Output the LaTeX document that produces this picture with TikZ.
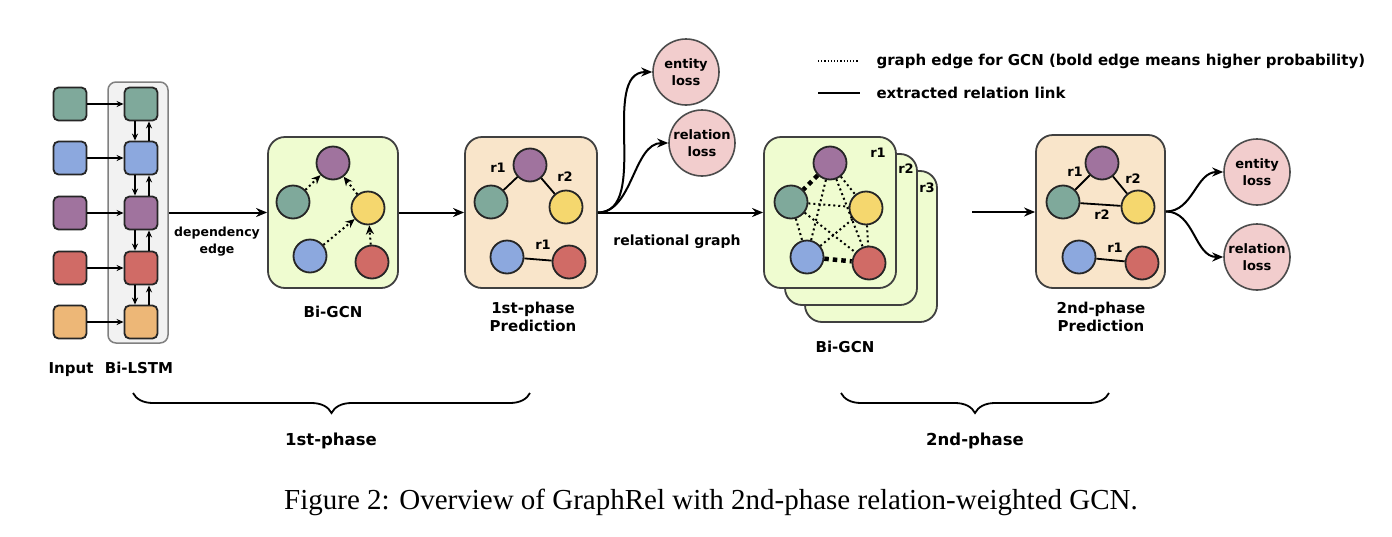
\documentclass[tikz,border=0pt]{standalone}
\usepackage{fontspec}
\setmainfont{Liberation Serif}
\setsansfont{DejaVu Sans}
\usetikzlibrary{arrows.meta, positioning, decorations.pathreplacing}

\definecolor{cteal}{HTML}{7FA99B}
\definecolor{cblue}{HTML}{8CA8DE}
\definecolor{cpurple}{HTML}{A0739E}
\definecolor{cred}{HTML}{D06B66}
\definecolor{corange}{HTML}{EDB777}
\definecolor{cyellow}{HTML}{F5D76E}
\definecolor{gcnfill}{HTML}{EFFCD0}
\definecolor{predfill}{HTML}{F9E5CA}
\definecolor{lossfill}{HTML}{F2CDCD}

\begin{document}
\begin{tikzpicture}[x=1pt, y=-1pt,
    >={Stealth[length=11pt,width=9pt]},
    lbl/.style={font=\sffamily\bfseries\fontsize{15}{18}\selectfont, align=center},
    small/.style={font=\sffamily\bfseries\fontsize{12.5}{17}\selectfont, align=center},
    rlbl/.style={font=\sffamily\bfseries\fontsize{13}{15}\selectfont, inner sep=0pt},
    sq/.style={draw=black!85, line width=1.8pt, rounded corners=5pt, minimum size=33pt, inner sep=0pt},
    tok/.style={circle, draw=black!85, line width=1.8pt, minimum size=33pt, inner sep=0pt},
    loss/.style={circle, draw=black!70, line width=1.6pt, fill=lossfill, minimum size=66pt, inner sep=0pt,
                 font=\sffamily\bfseries\fontsize{13}{17}\selectfont, align=center},
    panel/.style={draw=black!75, line width=1.8pt, rounded corners=17pt, minimum width=131pt, minimum height=151pt},
    flow/.style={->, line width=2pt},
    thin/.style={->, line width=1.3pt, >={Stealth[length=7pt,width=6pt]}},
    gedge/.style={line width=2pt, dash pattern=on 2pt off 3pt},
    gbold/.style={line width=4.5pt, dash pattern=on 4.5pt off 4pt},
    rel/.style={line width=1.8pt}]

\useasboundingbox (0,0) rectangle (1392,536);

% legend
\draw[line width=1.2pt, dotted] (818,61) -- (858,61);
\draw[line width=2pt] (818,93) -- (860,93);
\node[lbl, anchor=west] at (873,61) {graph edge for GCN (bold edge means higher probability)};
\node[lbl, anchor=west] at (873,93) {extracted relation link};

% input and Bi-LSTM
\node[draw=black!50, fill=black!5, line width=1.5pt, rounded corners=8pt, minimum width=60pt, minimum height=261pt] (lstm) at (138,212.5) {};
\node[sq, fill=cteal] (in1) at (70,104) {};
\node[sq, fill=cblue] (in2) at (70,158) {};
\node[sq, fill=cpurple] (in3) at (70,213) {};
\node[sq, fill=cred] (in4) at (70,268) {};
\node[sq, fill=corange] (in5) at (70,322) {};
\node[sq, fill=cteal] (h1) at (141,104) {};
\node[sq, fill=cblue] (h2) at (141,158) {};
\node[sq, fill=cpurple] (h3) at (141,213) {};
\node[sq, fill=cred] (h4) at (141,268) {};
\node[sq, fill=corange] (h5) at (141,322) {};
\draw[thin] (in1) -- (h1);
\draw[thin] (in2) -- (h2);
\draw[thin] (in3) -- (h3);
\draw[thin] (in4) -- (h4);
\draw[thin] (in5) -- (h5);
\draw[thin] ([xshift=-6pt]h1.south) -- ([xshift=-6pt]h2.north);
\draw[thin] ([xshift=-6pt]h2.south) -- ([xshift=-6pt]h3.north);
\draw[thin] ([xshift=-6pt]h3.south) -- ([xshift=-6pt]h4.north);
\draw[thin] ([xshift=-6pt]h4.south) -- ([xshift=-6pt]h5.north);
\draw[thin] ([xshift=8pt]h2.north) -- ([xshift=8pt]h1.south);
\draw[thin] ([xshift=8pt]h3.north) -- ([xshift=8pt]h2.south);
\draw[thin] ([xshift=8pt]h4.north) -- ([xshift=8pt]h3.south);
\draw[thin] ([xshift=8pt]h5.north) -- ([xshift=8pt]h4.south);
\node[lbl, anchor=base] at (71,373.5) {Input};
\node[lbl, anchor=base] at (139,373.5) {Bi-LSTM};

% 1st-phase Bi-GCN
\node[panel, fill=gcnfill, minimum width=130pt] (gcn) at (333,212.5) {};
\node[tok, fill=cpurple] (ga) at (333,163) {};
\node[tok, fill=cteal] (gb) at (293,202) {};
\node[tok, fill=cyellow] (gc) at (368,208) {};
\node[tok, fill=cblue] (gd) at (310,256) {};
\node[tok, fill=cred] (ge) at (372,262) {};
\draw[gedge, ->, >={Stealth[length=9pt,width=8pt]}] (gb) -- (ga);
\draw[gedge, ->, >={Stealth[length=9pt,width=8pt]}] (gc) -- (ga);
\draw[gedge, ->, >={Stealth[length=9pt,width=8pt]}] (gd) -- (gc);
\draw[gedge, ->, >={Stealth[length=9pt,width=8pt]}] (ge) -- (gc);
\node[lbl] at (333,312) {Bi-GCN};
\draw[flow] (lstm) -- (gcn);
\node[small] at (217,241.5) {dependency\\edge};

% 1st-phase prediction
\node[panel, fill=predfill, minimum width=132pt] (pred) at (531,212.5) {};
\node[tok, fill=cpurple] (pa) at (530,165) {};
\node[tok, fill=cteal] (pb) at (491,202) {};
\node[tok, fill=cyellow] (pc) at (566,207) {};
\node[tok, fill=cblue] (pd) at (507,257) {};
\node[tok, fill=cred] (pe) at (569,262) {};
\draw[rel] (pa) -- (pb);
\draw[rel] (pa) -- (pc);
\draw[rel] (pd) -- (pe);
\node[rlbl] at (498,168) {r1};
\node[rlbl] at (565,177) {r2};
\node[rlbl] at (543,245) {r1};
\node[lbl] at (533,317) {1st-phase\\Prediction};
\draw[flow] (gcn) -- (pred);

% losses of 1st phase
\node[loss] (ent) at (686,72) {entity\\loss};
\node[loss] (rls) at (702,143) {relation\\loss};
\draw[flow] (pred.east) to[out=0, in=180, looseness=0.9] (ent.west);
\draw[flow] (pred.east) to[out=0, in=180, looseness=0.9] (rls.west);

% 2nd-phase Bi-GCN (stack r1 r2 r3)
\node[panel, fill=gcnfill, minimum width=132pt] (gcnc) at (871,246.5) {};
\node[panel, fill=gcnfill, minimum width=132pt] (gcnb) at (851,229.5) {};
\node[panel, fill=gcnfill, minimum width=132pt] (gcna) at (830,212.5) {};
\node[rlbl] at (878,153) {r1};
\node[rlbl] at (906,169) {r2};
\node[rlbl] at (927,188) {r3};
\node[tok, fill=cpurple] (qa) at (830,163) {};
\node[tok, fill=cteal] (qb) at (791,202) {};
\node[tok, fill=cyellow] (qc) at (866,208) {};
\node[tok, fill=cblue] (qd) at (807,257) {};
\node[tok, fill=cred] (qe) at (869,263) {};
\draw[gbold] (qa) -- (qb);
\draw[gbold] (qd) -- (qe);
\draw[gedge] (qa) -- (qc);
\draw[gedge] (qa) -- (qd);
\draw[gedge] (qa) -- (qe);
\draw[gedge] (qb) -- (qc);
\draw[gedge] (qb) -- (qd);
\draw[gedge] (qb) -- (qe);
\draw[gedge] (qc) -- (qd);
\draw[gedge] (qc) -- (qe);
\node[lbl] at (845,347) {Bi-GCN};
\draw[flow] (pred) -- (gcna);
\node[lbl, font=\sffamily\bfseries\fontsize{14}{16}\selectfont] at (677,242) {relational graph};

% 2nd-phase prediction
\node[panel, fill=predfill, minimum width=129pt, minimum height=153pt] (predb) at (1100.5,211.5) {};
\node[tok, fill=cpurple] (ra) at (1102,163) {};
\node[tok, fill=cteal] (rb) at (1063,202) {};
\node[tok, fill=cyellow] (rc) at (1138,207) {};
\node[tok, fill=cblue] (rd) at (1079,257) {};
\node[tok, fill=cred] (re) at (1142,263) {};
\draw[rel] (ra) -- (rb);
\draw[rel] (ra) -- (rc);
\draw[rel] (rb) -- (rc);
\draw[rel] (rd) -- (re);
\node[rlbl] at (1075,172) {r1};
\node[rlbl] at (1133,179) {r2};
\node[rlbl] at (1102,215) {r2};
\node[rlbl] at (1115,248) {r1};
\node[lbl] at (1101,317) {2nd-phase\\Prediction};
\coordinate (gcnout) at (972,212);
\draw[flow] (gcnout) -- (predb.west |- gcnout);

% losses of 2nd phase
\node[loss] (entb) at (1257,172) {entity\\loss};
\node[loss] (rlsb) at (1257,257) {relation\\loss};
\draw[flow] (predb.east) to[out=0, in=180] (entb.west);
\draw[flow] (predb.east) to[out=0, in=180] (rlsb.west);

% phases
\draw[line width=1.8pt, decorate, decoration={brace, mirror, amplitude=20pt}] (133,393) -- (530,393);
\draw[line width=1.8pt, decorate, decoration={brace, mirror, amplitude=20pt}] (841,393) -- (1109,393);
\node[lbl, font=\sffamily\bfseries\fontsize{16.5}{18}\selectfont] at (331,441) {1st-phase};
\node[lbl, font=\sffamily\bfseries\fontsize{16.5}{18}\selectfont] at (975,441) {2nd-phase};

% caption
\node[font=\fontsize{29}{32}\selectfont] at (711,502) {Figure 2: Overview of GraphRel with 2nd-phase relation-weighted GCN.};
\end{tikzpicture}
\end{document}
